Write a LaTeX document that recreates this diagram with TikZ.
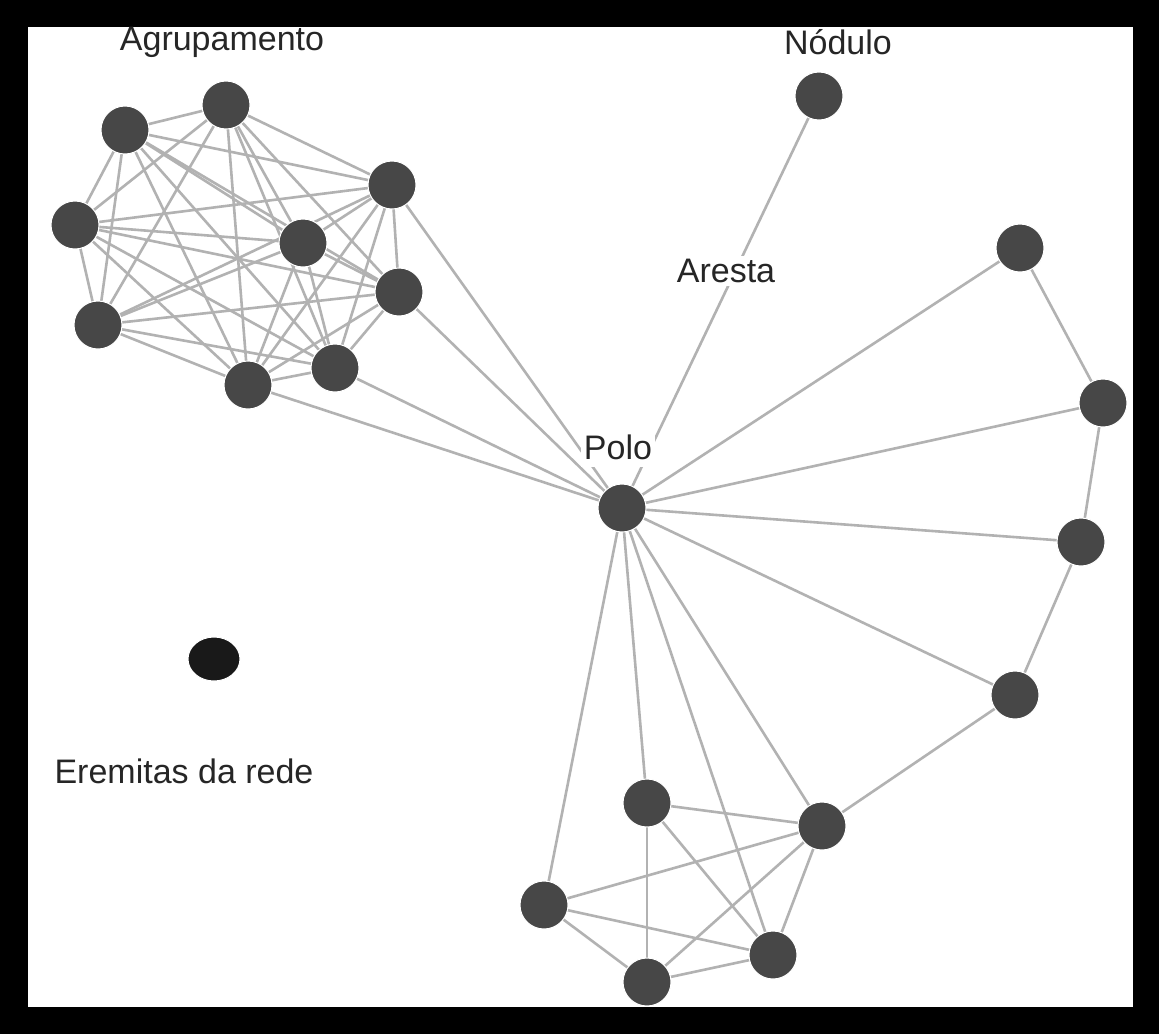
\documentclass[tikz,border=0pt]{standalone}
\usepackage{fontspec}
\setmainfont{Liberation Sans}
\usetikzlibrary{shapes.geometric, backgrounds}

\begin{document}
\begin{tikzpicture}[x=1pt, y=-1pt,
  nodo/.style={circle, fill=black!72, draw=white, line width=1pt, minimum size=48pt, inner sep=0pt},
  eremita/.style={ellipse, fill=black!90, draw=white, line width=1pt, minimum width=52pt, minimum height=44pt, inner sep=0pt},
  aresta/.style={draw=black!30, line width=2.6pt},
  rotulo/.style={font=\fontsize{34}{38}\selectfont, text=black!85, inner sep=3pt}]
  % agrupamento
  \node [nodo] (a1) at (125, 130) {};
  \node [nodo] (a2) at (226, 105) {};
  \node [nodo] (a3) at (392, 185) {};
  \node [nodo] (a4) at (75, 225) {};
  \node [nodo] (a5) at (303, 243) {};
  \node [nodo] (a6) at (399, 292) {};
  \node [nodo] (a7) at (98, 325) {};
  \node [nodo] (a8) at (248, 385) {};
  \node [nodo] (a9) at (335, 368) {};
  % polo e nodulo
  \node [nodo] (polo) at (622, 508) {};
  \node [nodo] (nodulo) at (819, 96) {};
  % lado direito
  \node [nodo] (r1) at (1020, 248) {};
  \node [nodo] (r2) at (1103, 403) {};
  \node [nodo] (r3) at (1081, 542) {};
  \node [nodo] (r4) at (1015, 695) {};
  \node [nodo] (r5) at (822, 826) {};
  % grupo de baixo
  \node [nodo] (b1) at (647, 803) {};
  \node [nodo] (b2) at (544, 905) {};
  \node [nodo] (b3) at (773, 955) {};
  \node [nodo] (b4) at (647, 982) {};
  % eremita
  \node [eremita] (erm) at (214, 659) {};

  \begin{pgfonlayer}{background}
  % moldura
  \fill [black] (0, 0) rectangle (1159, 1034);
  \fill [white] (28, 27) rectangle (1133, 1007);
  \foreach \i in {1,...,8} {
    \pgfmathtruncatemacro\k{\i+1}
    \foreach \j in {\k,...,9}
      \draw [aresta] (a\i.center) -- (a\j.center);
  }
  \foreach \s in {a3, a6, a9, a8, nodulo, r1, r2, r3, r4, r5, b1, b2, b3}
    \draw [aresta] (polo.center) -- (\s.center);
  \draw [aresta] (r1.center) -- (r2.center) -- (r3.center) -- (r4.center) -- (r5.center);
  \draw [aresta] (b1.center) -- (r5.center);
  \draw [aresta] (b1.center) -- (b3.center);
  \draw [aresta] (b1.center) -- (b4.center);
  \draw [aresta] (b2.center) -- (r5.center);
  \draw [aresta] (b2.center) -- (b3.center);
  \draw [aresta] (b2.center) -- (b4.center);
  \draw [aresta] (b4.center) -- (r5.center);
  \draw [aresta] (b4.center) -- (b3.center);
  \draw [aresta] (b3.center) -- (r5.center);
  \end{pgfonlayer}

  \node [rotulo] (lagr) at (222, 42) {Agrupamento};
  \node [rotulo] (lnod) at (838, 42) {Nódulo};
  \node [rotulo, fill=white] (lare) at (726, 271) {Aresta};
  \node [rotulo, fill=white, inner ysep=8pt] (lpol) at (618, 447) {Polo};
  \node [rotulo] (lere) at (184, 771) {Eremitas da rede};
\end{tikzpicture}
\end{document}
